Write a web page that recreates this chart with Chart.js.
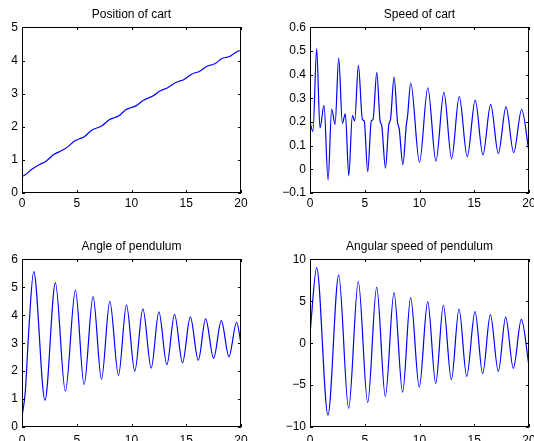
<!DOCTYPE html>
<html>
<head>
<meta charset="utf-8">
<script src="https://cdn.jsdelivr.net/npm/chart.js@4.4.1/dist/chart.umd.min.js"></script>
<style>
  body { margin: 0; background: #fff; }
  #fig { position: relative; width: 534px; height: 441px; overflow: hidden; background: #fff; }
  #fig canvas { position: absolute; }
</style>
</head>
<body>
<div id="fig">
  <canvas id="pos" width="267" height="220" style="left:0px; top:0px;"></canvas>
  <canvas id="speed" width="267" height="220" style="left:267px; top:0px;"></canvas>
  <canvas id="angle" width="267" height="221" style="left:0px; top:220px;"></canvas>
  <canvas id="omega" width="267" height="221" style="left:267px; top:220px;"></canvas>
</div>
<script>
// {{{ data
const posTime = [0, 0.3, 0.9, 1.65, 2.0, 2.3, 2.9, 3.55, 3.9, 4.2, 4.8, 5.27, 5.65, 6.4, 6.9, 7.3, 8.0, 8.5, 8.85, 9.5, 10.0, 10.4, 11.1, 11.5, 11.9, 12.6, 12.95, 13.3, 14.0, 14.4, 14.75, 15.45, 15.8, 16.2, 16.85, 17.2, 17.6, 18.3, 18.6, 19.0, 19.7, 20];
const posValue = [0.5, 0.55, 0.72, 0.87, 0.92, 0.99, 1.16, 1.27, 1.33, 1.4, 1.57, 1.64, 1.69, 1.9, 1.97, 2.03, 2.22, 2.28, 2.33, 2.52, 2.58, 2.63, 2.8, 2.86, 2.92, 3.08, 3.13, 3.18, 3.33, 3.38, 3.42, 3.58, 3.63, 3.67, 3.82, 3.86, 3.9, 4.07, 4.09, 4.13, 4.28, 4.3];

const speedTime = [0, 0.27, 0.61, 0.91, 1.28, 1.65, 1.98, 2.29, 2.62, 2.96, 3.23, 3.54, 3.87, 4.08, 4.42, 4.79, 4.95, 5.27, 5.6, 5.75, 6.1, 6.4, 6.55, 6.89, 7.2, 7.35, 7.68, 7.99, 8.15, 8.48, 8.8, 8.9, 9.2, 10.0, 10.76, 11.5, 12.23, 12.93, 13.63, 14.36, 15.09, 15.79, 16.5, 17.2, 17.9, 18.6, 19.33, 20];
const speedValue = [0.2, 0.16, 0.51, 0.175, 0.27, -0.045, 0.255, 0.19, 0.47, 0.195, 0.235, -0.027, 0.227, 0.205, 0.44, 0.21, 0.205, -0.01, 0.205, 0.21, 0.41, 0.205, 0.185, 0.005, 0.19, 0.21, 0.39, 0.2, 0.17, 0.02, 0.19, 0.22, 0.365, 0.03, 0.345, 0.035, 0.325, 0.045, 0.307, 0.053, 0.293, 0.061, 0.275, 0.067, 0.264, 0.071, 0.253, 0.074];

const angleTime = [0, 0.3, 0.61, 1.07, 2.1, 3.05, 3.96, 4.88, 5.67, 6.49, 7.26, 8.02, 8.81, 9.54, 10.3, 11.04, 11.8, 12.5, 13.23, 13.93, 14.66, 15.37, 16.1, 16.77, 17.5, 18.2, 18.9, 19.6, 20];
const angleValue = [0.36, 1.26, 3.4, 5.56, 0.96, 5.16, 1.28, 4.9, 1.52, 4.67, 1.71, 4.5, 1.85, 4.36, 2.0, 4.23, 2.11, 4.12, 2.23, 4.03, 2.3, 3.94, 2.39, 3.87, 2.46, 3.81, 2.52, 3.75, 2.99];

const omegaTime = [0, 0.61, 1.64, 2.62, 3.53, 4.41, 5.27, 6.09, 6.88, 7.67, 8.46, 9.19, 9.98, 10.75, 11.48, 12.18, 12.91, 13.61, 14.31, 15.07, 15.77, 16.47, 17.2, 17.87, 18.57, 19.3, 20];
const omegaValue = [1.1, 9.0, -8.56, 8.12, -7.76, 7.36, -7.08, 6.68, -6.36, 6.04, -5.84, 5.44, -5.24, 4.96, -4.8, 4.52, -4.36, 4.08, -3.96, 3.76, -3.64, 3.4, -3.36, 3.12, -3.0, 2.84, -2.72];
// }}}

const fontFamily = '"Liberation Sans", Arial, Helvetica, sans-serif';
const fontSize = 12;

// {{{ tickText()
function tickText(v)
{
  let s = String(Math.round(v * 10) / 10);
  return s.replace('-', '\u2212');
}
// }}}

// {{{ boxTicks plugin: matlab style box with inward ticks on all sides
const boxTicks =
{
  id: 'boxTicks',
  afterDraw(chart)
  {
    const ctx = chart.ctx;
    const a = chart.chartArea;
    const l = Math.round(a.left), r = Math.round(a.right), t = Math.round(a.top), b = Math.round(a.bottom);
    const len = 3;
    ctx.save();
    ctx.strokeStyle = '#000';
    ctx.lineWidth = 1;
    ctx.strokeRect(l + 0.5, t + 0.5, r - l - 1, b - t - 1);
    ctx.beginPath();
    chart.scales.x.ticks.forEach((tk) =>
    {
      const px = Math.round(chart.scales.x.getPixelForValue(tk.value)) + 0.5;
      ctx.moveTo(px, b);
      ctx.lineTo(px, b - len);
      ctx.moveTo(px, t);
      ctx.lineTo(px, t + len);
    });
    chart.scales.y.ticks.forEach((tk) =>
    {
      const py = Math.round(chart.scales.y.getPixelForValue(tk.value)) + 0.5;
      ctx.moveTo(l, py);
      ctx.lineTo(l + len, py);
      ctx.moveTo(r, py);
      ctx.lineTo(r - len, py);
    });
    ctx.stroke();
    ctx.restore();
  }
};
// }}}

// {{{ makeChart()
function makeChart(id, title, xs, ys, yMin, yMax, yStep, box)
{
  const pts = [];
  for (let i = 0; i < xs.length; i++)
  {
    pts.push({x: xs[i], y: ys[i]});
  }
  return new Chart(document.getElementById(id),
  {
    type: 'line',
    data: {datasets: [{data: pts, borderColor: '#0000ff', borderWidth: 1.2, pointRadius: 0, cubicInterpolationMode: 'monotone', fill: false}]},
    plugins: [boxTicks],
    options:
    {
      responsive: false,
      animation: false,
      events: [],
      layout: {padding: {left: 0, right: box.padRight, top: 0, bottom: 0}},
      plugins:
      {
        legend: {display: false},
        tooltip: {enabled: false},
        title: {display: true, text: title, fullSize: false, color: '#000', font: {family: fontFamily, size: fontSize, weight: 'normal'}, padding: {top: box.titleTop, bottom: box.titleBottom}}
      },
      scales:
      {
        x:
        {
          type: 'linear', min: 0, max: 20,
          grid: {display: false, drawTicks: false, tickLength: 0}, border: {display: false},
          ticks: {stepSize: 5, color: '#000', padding: box.xPad, maxRotation: 0, font: {family: fontFamily, size: fontSize}, callback: tickText},
          afterFit: (s) => { s.height = box.xHeight; s.paddingLeft = 0; s.paddingRight = 0; }
        },
        y:
        {
          type: 'linear', min: yMin, max: yMax,
          grid: {display: false, drawTicks: false, tickLength: 0}, border: {display: false},
          ticks: {stepSize: yStep, color: '#000', padding: 4, font: {family: fontFamily, size: fontSize}, callback: tickText},
          afterFit: (s) => { s.width = box.yWidth; s.paddingTop = 0; s.paddingBottom = 0; }
        }
      }
    }
  });
}
// }}}

makeChart('pos', 'Position of cart', posTime, posValue, 0, 5, 1, {yWidth: 22, padRight: 26, titleTop: 7, titleBottom: 6, xHeight: 27, xPad: 3});
makeChart('speed', 'Speed of cart', speedTime, speedValue, -0.1, 0.6, 0.1, {yWidth: 43, padRight: 5, titleTop: 7, titleBottom: 6, xHeight: 27, xPad: 3});
makeChart('angle', 'Angle of pendulum', angleTime, angleValue, 0, 6, 1, {yWidth: 22, padRight: 26, titleTop: 19, titleBottom: 6, xHeight: 14, xPad: 6});
makeChart('omega', 'Angular speed of pendulum', omegaTime, omegaValue, -10, 10, 5, {yWidth: 43, padRight: 5, titleTop: 19, titleBottom: 6, xHeight: 14, xPad: 6});
</script>
</body>
</html>
